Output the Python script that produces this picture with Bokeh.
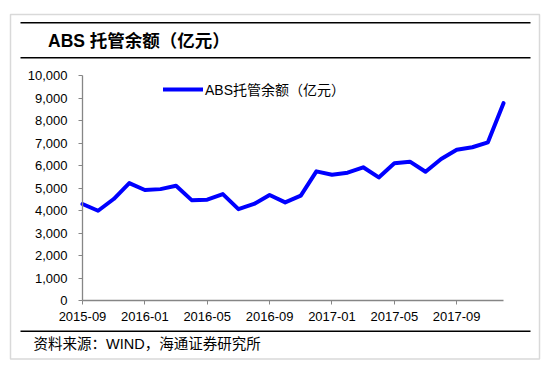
from bokeh.plotting import figure
from bokeh.models import (Range1d, FixedTicker, NumeralTickFormatter, LinearAxis,
                          Legend, LegendItem, ColumnDataSource)
from bokeh.embed import file_html
from bokeh.resources import INLINE
from bokeh.core.properties import value

# ---- data ----
months = ["2015-09", "2015-10", "2015-11", "2015-12",
          "2016-01", "2016-02", "2016-03", "2016-04",
          "2016-05", "2016-06", "2016-07", "2016-08",
          "2016-09", "2016-10", "2016-11", "2016-12",
          "2017-01", "2017-02", "2017-03", "2017-04",
          "2017-05", "2017-06", "2017-07", "2017-08",
          "2017-09", "2017-10", "2017-11", "2017-12"]
abs_balance = [4290, 3990, 4510, 5220, 4910, 4950, 5100, 4460,
               4480, 4730, 4060, 4290, 4690, 4360, 4660, 5740,
               5590, 5680, 5920, 5470, 6100, 6170, 5720, 6290,
               6700, 6810, 7030, 8770]
x_tick_labels = ["2015-09", "2016-01", "2016-05", "2016-09",
                 "2017-01", "2017-05", "2017-09"]
y_ticks = [0, 1000, 2000, 3000, 4000, 5000, 6000, 7000, 8000, 9000, 10000]
series_name = "ABS托管余额（亿元）"
title_text = "ABS 托管余额（亿元）"
source_text = "资料来源：WIND，海通证券研究所"

FONT = "Liberation Sans, Noto Sans CJK SC"

# ---- layout (pixels on the canvas) ----
W, H = 541, 362
PLOT_L, PLOT_R, PLOT_T, PLOT_B = 82, 503, 75, 300
n = len(months)
YMAX = 10000
px_per_x = (PLOT_R - PLOT_L) / (n - 1)
units_per_py = YMAX / (PLOT_B - PLOT_T)


def X(px):
    return (px - PLOT_L) / px_per_x


def Y(py):
    return (PLOT_B - py) * units_per_py


p = figure(width=W, height=H, output_backend="svg", toolbar_location=None,
           x_range=Range1d(X(0), X(W)), y_range=Range1d(Y(H), Y(0)),
           x_axis_location=None, y_axis_location=None,
           min_border=0, min_border_left=0, min_border_right=0,
           min_border_top=0, min_border_bottom=0)
p.outline_line_color = None
p.grid.visible = False
p.background_fill_color = "white"
p.border_fill_color = "white"

# decorations: outer light border, black rules, title, source
p.quad(left=[X(10)], right=[X(539)], top=[Y(14)], bottom=[Y(358.5)],
       fill_alpha=0, line_color="#d9d9d9", line_width=1.5)
rule_y = [Y(22.3), Y(57.3), Y(330.7)]
p.segment(x0=[X(20)] * 3, x1=[X(530)] * 3, y0=rule_y, y1=rule_y,
          line_color="black", line_width=1.4)
p.text(x=[X(47.5)], y=[Y(40)], text=[title_text], text_font=value(FONT),
       text_font_style="bold", text_font_size="17.5px", text_color="black",
       text_baseline="middle", text_align="left")
p.text(x=[X(33)], y=[Y(343)], text=[source_text], text_font=value(FONT),
       text_font_size="14.5px", text_color="black",
       text_baseline="middle", text_align="left")

# data line
src = ColumnDataSource(dict(x=list(range(n)), y=abs_balance))
r = p.line("x", "y", source=src, line_color="#0000FF", line_width=4,
           line_join="round", line_cap="round")

# axes at fixed locations
tick_pos = [months.index(m) for m in x_tick_labels]
xaxis = LinearAxis(fixed_location=0, bounds=(0, n - 1),
                   ticker=FixedTicker(ticks=tick_pos),
                   major_label_overrides={i: m for i, m in zip(tick_pos, x_tick_labels)})
yaxis = LinearAxis(fixed_location=0, bounds=(0, YMAX),
                   ticker=FixedTicker(ticks=y_ticks),
                   formatter=NumeralTickFormatter(format="0,0"))
for ax in (xaxis, yaxis):
    ax.axis_line_color = "#868686"
    ax.axis_line_width = 1.3
    ax.major_tick_line_color = "#868686"
    ax.major_tick_out = 4
    ax.major_tick_in = 0
    ax.minor_tick_line_color = None
    ax.major_label_text_font = FONT
    ax.major_label_text_font_size = "13px"
    ax.major_label_text_color = "black"
yaxis.major_label_standoff = 11
xaxis.major_label_standoff = 7
p.add_layout(xaxis, "below")
p.add_layout(yaxis, "left")

# legend
legend = Legend(items=[LegendItem(label=series_name, renderers=[r])],
                location=(163, H - 89 - 10), padding=0, margin=0, spacing=0,
                glyph_width=40, glyph_height=20, label_height=20,
                label_standoff=2, border_line_color=None,
                background_fill_alpha=0,
                label_text_font=FONT, label_text_font_size="14px",
                label_text_color="black")
p.add_layout(legend, "center")

open("out.html", "w").write(file_html(p, INLINE))
